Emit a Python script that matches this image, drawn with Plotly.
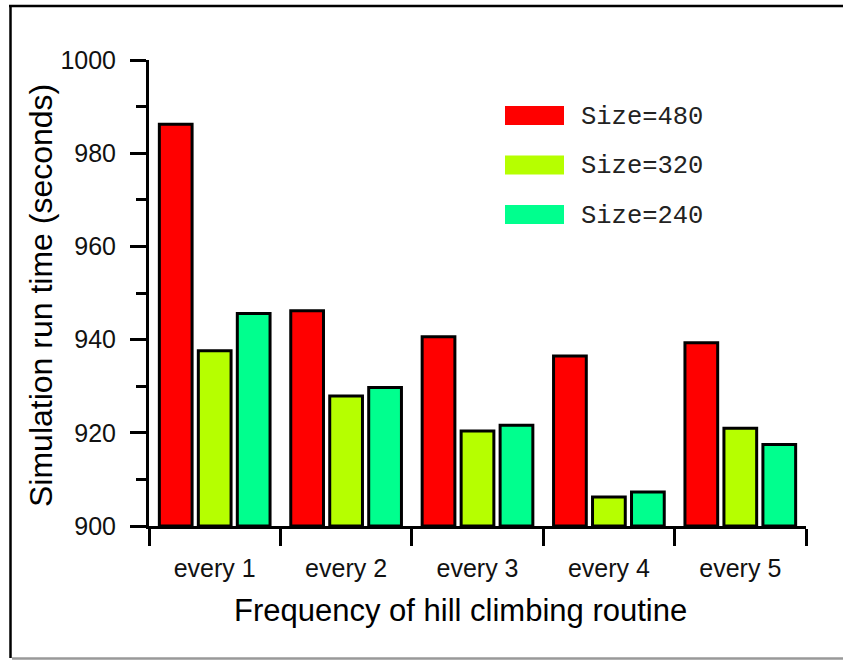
import plotly.graph_objects as go

# Run times (seconds) per hill-climbing frequency, one list per problem size
categories = ["every 1", "every 2", "every 3", "every 4", "every 5"]
series_names = ["Size=480", "Size=320", "Size=240"]
size480 = [986.2, 946.2, 940.6, 936.5, 939.3]
size320 = [937.6, 927.9, 920.4, 906.2, 921.0]
size240 = [945.6, 929.7, 921.6, 907.3, 917.5]
y_ticks = [900, 920, 940, 960, 980, 1000]

colors = ["#FF0000", "#B6FF00", "#00FF8E"]
series = [size480, size320, size240]

W, H = 843, 660
ML, MR, MT, MB = 149, 37, 60, 134
PW, PH = W - ML - MR, H - MT - MB


def px(x):
    return (x - ML) / PW


def py(y):
    return (H - MB - y) / PH


fig = go.Figure()
for name, vals, col in zip(series_names, series, colors):
    fig.add_trace(go.Bar(
        x=categories, y=[v - 900 for v in vals], base=900, name=name,
        marker=dict(color=col, line=dict(color="black", width=3)),
        showlegend=False,
    ))

font = "Liberation Sans, Arial, sans-serif"
shapes = []
annotations = []

# Legend: plain colour swatches with monospaced labels
for i, (name, col) in enumerate(zip(series_names, colors)):
    top = 106 + i * 49.5
    shapes.append(dict(type="rect", xref="paper", yref="paper",
                       x0=px(505), x1=px(564), y0=py(top), y1=py(top + 19),
                       fillcolor=col, line=dict(width=0)))
    annotations.append(dict(xref="paper", yref="paper", x=px(579), y=py(top + 11),
                            text=name, showarrow=False, xanchor="left", yanchor="middle",
                            font=dict(family="Liberation Mono, Courier New, monospace",
                                      size=25.5, color="#222")))

# Axis titles
annotations.append(dict(xref="paper", yref="paper", x=px(460), y=py(610),
                        text="Frequency of hill climbing routine", showarrow=False,
                        xanchor="center", yanchor="middle",
                        font=dict(family=font, size=31, color="black")))
annotations.append(dict(xref="paper", yref="paper", x=px(41), y=py(296),
                        text="Simulation run time (seconds)", showarrow=False,
                        textangle=-90, xanchor="center", yanchor="middle",
                        font=dict(family=font, size=32, color="black")))

# Outer frame
shapes.append(dict(type="line", xref="paper", yref="paper",
                   x0=px(9), x1=px(845), y0=py(6), y1=py(6),
                   line=dict(color="black", width=2.5)))
shapes.append(dict(type="line", xref="paper", yref="paper",
                   x0=px(10.5), x1=px(10.5), y0=py(5), y1=py(658),
                   line=dict(color="black", width=2.5)))
shapes.append(dict(type="line", xref="paper", yref="paper",
                   x0=px(12), x1=px(845), y0=py(658.5), y1=py(658.5),
                   line=dict(color="#999999", width=2.5)))

fig.update_layout(
    width=W, height=H,
    margin=dict(l=ML, r=MR, t=MT, b=MB, autoexpand=False),
    paper_bgcolor="white", plot_bgcolor="white",
    barmode="group", bargap=0.11, bargroupgap=0.16,
    shapes=shapes, annotations=annotations,
    font=dict(family=font, color="black"),
    xaxis=dict(
        type="category", range=[-0.5, 4.5], showgrid=False, zeroline=False,
        showline=True, linecolor="black", linewidth=3,
        ticks="outside", tickson="boundaries", ticklen=17, tickwidth=3, tickcolor="black",
        tickfont=dict(family=font, size=25, color="#111"), ticklabelstandoff=18,
    ),
    yaxis=dict(
        range=[900, 1000], tickvals=y_ticks, showgrid=False, zeroline=False,
        showline=True, linecolor="black", linewidth=3,
        ticks="outside", ticklen=16, tickwidth=3, tickcolor="black",
        minor=dict(dtick=10, ticks="outside", ticklen=10, tickwidth=3, tickcolor="black"),
        tickfont=dict(family=font, size=25, color="#111"), ticklabelstandoff=9,
    ),
)

fig.write_html("out.html")
